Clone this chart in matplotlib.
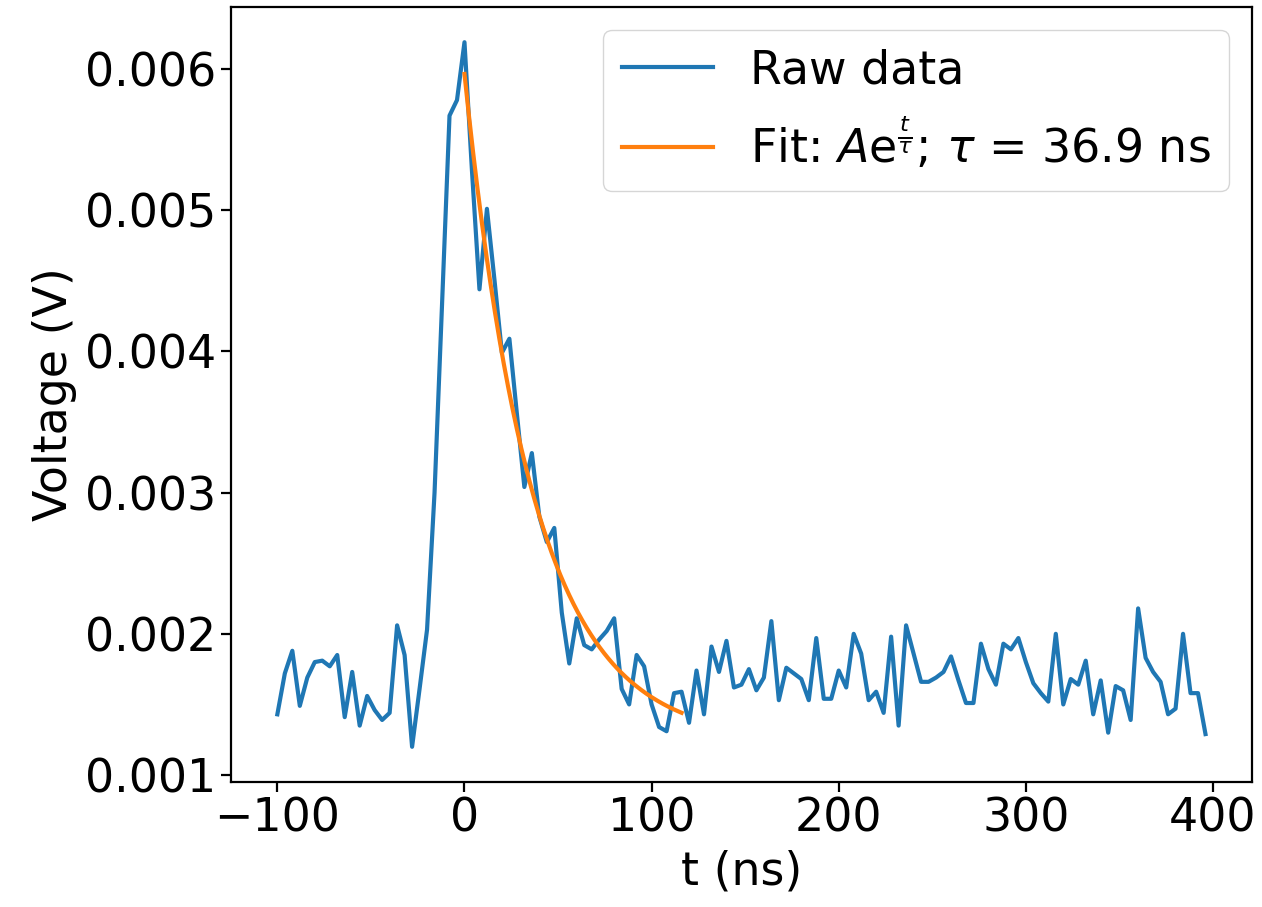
import numpy as np
import matplotlib
matplotlib.use("Agg")
import matplotlib.pyplot as plt

# time axis (ns), sampled every 4 ns
t_start, t_stop, t_step = -100, 400, 4
t = np.arange(t_start, t_stop, t_step)

voltage = [
    0.00143, 0.00172, 0.00188, 0.00149, 0.00169, 0.00180, 0.00181, 0.00177,
    0.00185, 0.00141, 0.00173, 0.00135, 0.00156, 0.00146, 0.00139, 0.00144,
    0.00206, 0.00185, 0.00120, 0.00161, 0.00203, 0.00300, 0.00433, 0.00567,
    0.00578, 0.00619, 0.00528, 0.00444, 0.00501, 0.00451, 0.00399, 0.00409,
    0.00356, 0.00304, 0.00328, 0.00283, 0.00265, 0.00275, 0.00215, 0.00179,
    0.00211, 0.00192, 0.00189, 0.00196, 0.00202, 0.00211, 0.00161, 0.00150,
    0.00185, 0.00177, 0.00150, 0.00134, 0.00131, 0.00158, 0.00159, 0.00137,
    0.00174, 0.00143, 0.00191, 0.00173, 0.00195, 0.00162, 0.00164, 0.00175,
    0.00160, 0.00169, 0.00209, 0.00153, 0.00176, 0.00172, 0.00168, 0.00153,
    0.00197, 0.00154, 0.00154, 0.00174, 0.00162, 0.00200, 0.00186, 0.00153,
    0.00159, 0.00144, 0.00198, 0.00135, 0.00206, 0.00186, 0.00166, 0.00166,
    0.00169, 0.00173, 0.00184, 0.00167, 0.00151, 0.00151, 0.00193, 0.00175,
    0.00164, 0.00193, 0.00189, 0.00197, 0.00180, 0.00165, 0.00158, 0.00152,
    0.00200, 0.00150, 0.00168, 0.00164, 0.00181, 0.00143, 0.00167, 0.00130,
    0.00163, 0.00160, 0.00139, 0.00218, 0.00183, 0.00173, 0.00166, 0.00143,
    0.00147, 0.00200, 0.00158, 0.00158, 0.00129,
]

# fit parameters (exponential decay with offset)
fit_A = 0.004728
fit_C = 0.001237
fit_tau = 36.9
fit_t_start, fit_t_end = 0, 116

t_fit = np.linspace(fit_t_start, fit_t_end, 200)
v_fit = fit_C + fit_A * np.exp(-t_fit / fit_tau)

FS = 33
fig = plt.figure(figsize=(12.62, 9.07), dpi=100)
ax = fig.add_axes([0.183, 0.1378, 0.809, 0.8545])

ax.plot(t, voltage, color="#1f77b4", lw=3.0, label="Raw data")
ax.plot(t_fit, v_fit, color="#ff7f0e", lw=3.0,
        label=r"Fit: $A\mathrm{e}^{\frac{t}{\tau}}$; $\tau$ = 36.9 ns")

ax.set_xlabel("t (ns)", fontsize=FS, labelpad=6)
ax.set_ylabel("Voltage (V)", fontsize=FS, labelpad=6)
ax.tick_params(labelsize=FS, width=1.6, length=7)
for s in ax.spines.values():
    s.set_linewidth(1.6)
ax.legend(fontsize=FS, loc="upper right", handlelength=2.0)

fig.savefig("out.png", dpi=100)
